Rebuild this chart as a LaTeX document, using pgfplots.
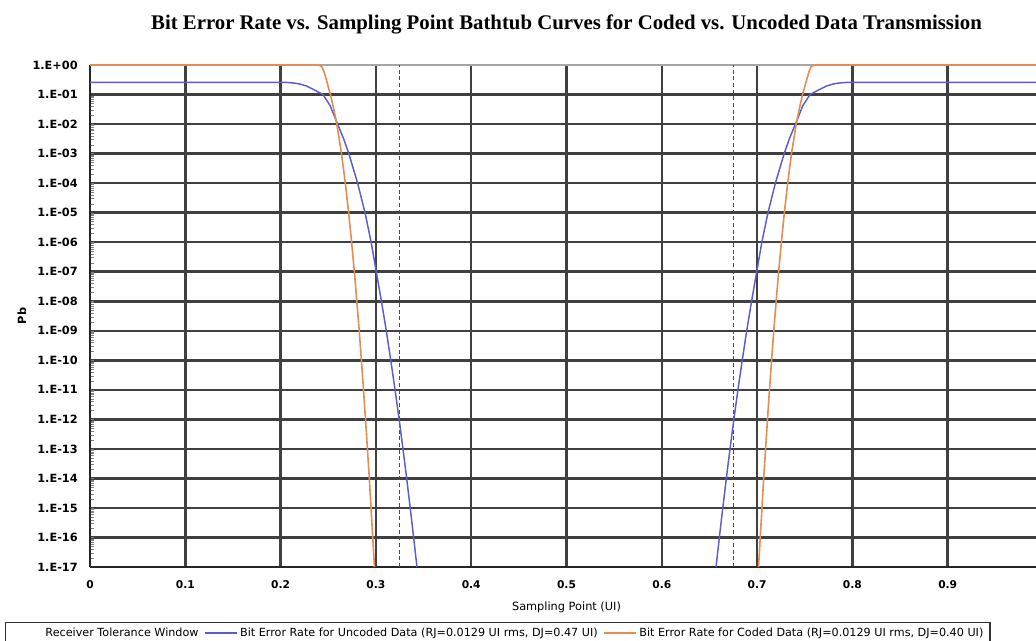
\documentclass[border=0pt]{standalone}
\usepackage{pgfplots}
\pgfplotsset{compat=1.18}
\usepackage{fontspec}
\newfontfamily\dejavu{DejaVu Sans}
\newfontfamily\titlefont{Liberation Serif}
\definecolor{berblue}{RGB}{92,92,205}
\definecolor{berorange}{RGB}{226,142,84}
\begin{document}
\begin{tikzpicture}
% the reference picture is cut off at the right
\useasboundingbox (-67.5pt,-54.75pt) rectangle (709.5pt,425.25pt);
\clip (-67.5pt,-54.75pt) rectangle (709.5pt,425.25pt);
\begin{axis}[
    width=714.75pt, height=376.5pt, scale only axis,
    at={(0pt,0pt)}, anchor=south west,
    ymode=log,
    xmin=0, xmax=1, ymin=1e-17, ymax=1,
    clip=false,
    axis x line*=bottom, axis y line*=left,
    axis line style={-, black!85, line width=1.6pt},
    major tick length=0pt,
    xtick={0,0.1,0.2,0.3,0.4,0.5,0.6,0.7,0.8,0.9},
    xticklabels={0,0.1,0.2,0.3,0.4,0.5,0.6,0.7,0.8,0.9},
    extra x ticks={1},
    extra x tick labels={},
    ytick={1e-17,1e-16,1e-15,1e-14,1e-13,1e-12,1e-11,1e-10,1e-9,1e-8,1e-7,1e-6,1e-5,1e-4,1e-3,1e-2,1e-1},
    yticklabels={1.E-17,1.E-16,1.E-15,1.E-14,1.E-13,1.E-12,1.E-11,1.E-10,1.E-09,1.E-08,1.E-07,1.E-06,1.E-05,1.E-04,1.E-03,1.E-02,1.E-01},
    extra y ticks={1},
    extra y tick labels={1.E+00},
    extra y tick style={major grid style={black!35, line width=1pt}},
    grid=major,
    major grid style={black!75, line width=1.9pt},
    minor tick num=0,
    xticklabel style={font=\dejavu\bfseries\fontsize{8}{9}\selectfont, anchor=center, yshift=-13.5pt},
    yticklabel style={font=\dejavu\bfseries\fontsize{8.5}{9}\selectfont, anchor=east, inner sep=0pt, xshift=-9pt},
    title={Bit Error Rate vs. Sampling Point Bathtub Curves for Coded vs. Uncoded Data Transmission},
    title style={font=\titlefont\bfseries\fontsize{15.6}{17}\selectfont, at={(axis description cs:0.5,1)}, anchor=center, yshift=24.5pt},
    xlabel={Sampling Point (UI)},
    xlabel style={font=\dejavu\fontsize{8.5}{10}\selectfont, at={(axis description cs:0.5,0)}, anchor=center, yshift=-30pt},
    ylabel={Pb},
    ylabel style={font=\dejavu\bfseries\fontsize{8.5}{10}\selectfont, at={(axis description cs:-0.0714,0.5)}, anchor=center},
    legend columns=-1,
    legend image code/.code={\draw[#1] (0pt,0pt) -- (24pt,0pt);},
    legend style={
        at={(axis description cs:0,0)}, anchor=north west,
        xshift=-63.75pt, yshift=-41.25pt,
        font=\dejavu\fontsize{8.4}{10}\selectfont,
        draw=black!80, line width=0.9pt,
        /tikz/every even column/.append style={column sep=2pt},
    },
]

% receiver tolerance window
\addlegendimage{white}
\addlegendentry{Receiver Tolerance Window}
\addplot[forget plot, black!70, line width=0.8pt, dash pattern=on 3pt off 2pt] coordinates {(0.325,1e-17)(0.325,1)};
\addplot[forget plot, black!70, line width=0.8pt, dash pattern=on 3pt off 2pt] coordinates {(0.675,1e-17)(0.675,1)};

% uncoded data
\addplot[berblue, line width=1.1pt] coordinates {
(0,0.26)(0.2,0.26)(0.205,0.258)(0.21,0.252)(0.215,0.243)(0.22,0.228)(0.227,0.195)
(0.236,0.14)(0.2445,0.1)(0.252,0.042)(0.2588,0.012)(0.2661,3.2e-3)(0.2716,1e-3)
(0.2808,1e-4)(0.2886,1e-5)(0.2950,1e-6)(0.3004,1e-7)(0.3058,1e-8)(0.3109,1e-9)
(0.3156,1e-10)(0.3201,1e-11)(0.3244,1e-12)(0.3284,1e-13)(0.3323,1e-14)(0.3360,1e-15)
(0.3396,1e-16)(0.3431,1e-17)
};
\addlegendentry{Bit Error Rate for Uncoded Data (RJ=0.0129 UI rms, DJ=0.47 UI)}
\addplot[forget plot, berblue, line width=1.1pt] coordinates {
(0.6569,1e-17)(0.6604,1e-16)(0.6640,1e-15)(0.6677,1e-14)(0.6716,1e-13)(0.6756,1e-12)
(0.6799,1e-11)(0.6844,1e-10)(0.6891,1e-9)(0.6942,1e-8)(0.6996,1e-7)(0.7050,1e-6)
(0.7114,1e-5)(0.7192,1e-4)(0.7284,1e-3)(0.7339,3.2e-3)(0.7412,0.012)(0.748,0.042)
(0.7555,0.1)(0.764,0.14)(0.773,0.195)(0.78,0.228)(0.785,0.243)(0.79,0.252)
(0.795,0.258)(0.8,0.26)(1,0.26)
};

% coded data
\addplot[berorange, line width=1.2pt] coordinates {
(0,1)(0.238,1)(0.241,0.97)(0.2435,0.85)(0.2455,0.6)(0.248,0.32)(0.2505,0.16)
(0.2523,0.1)(0.2555,0.035)(0.2590,0.01)(0.2639,1e-3)(0.2679,1e-4)(0.2714,1e-5)
(0.2745,1e-6)(0.2774,1e-7)(0.2800,1e-8)(0.2825,1e-9)(0.2848,1e-10)(0.2870,1e-11)
(0.2891,1e-12)(0.2911,1e-13)(0.2931,1e-14)(0.2949,1e-15)(0.2967,1e-16)(0.2985,1e-17)
};
\addlegendentry{Bit Error Rate for Coded Data (RJ=0.0129 UI rms, DJ=0.40 UI)}
\addplot[forget plot, berorange, line width=1.2pt] coordinates {
(0.7015,1e-17)(0.7033,1e-16)(0.7051,1e-15)(0.7069,1e-14)(0.7089,1e-13)(0.7109,1e-12)
(0.7130,1e-11)(0.7152,1e-10)(0.7175,1e-9)(0.7200,1e-8)(0.7226,1e-7)(0.7255,1e-6)
(0.7286,1e-5)(0.7321,1e-4)(0.7361,1e-3)(0.7410,0.01)(0.7445,0.035)(0.7477,0.1)
(0.7495,0.16)(0.752,0.32)(0.7545,0.6)(0.7565,0.85)(0.759,0.97)(0.762,1)(1,1)
};

\end{axis}
\end{tikzpicture}
\end{document}
